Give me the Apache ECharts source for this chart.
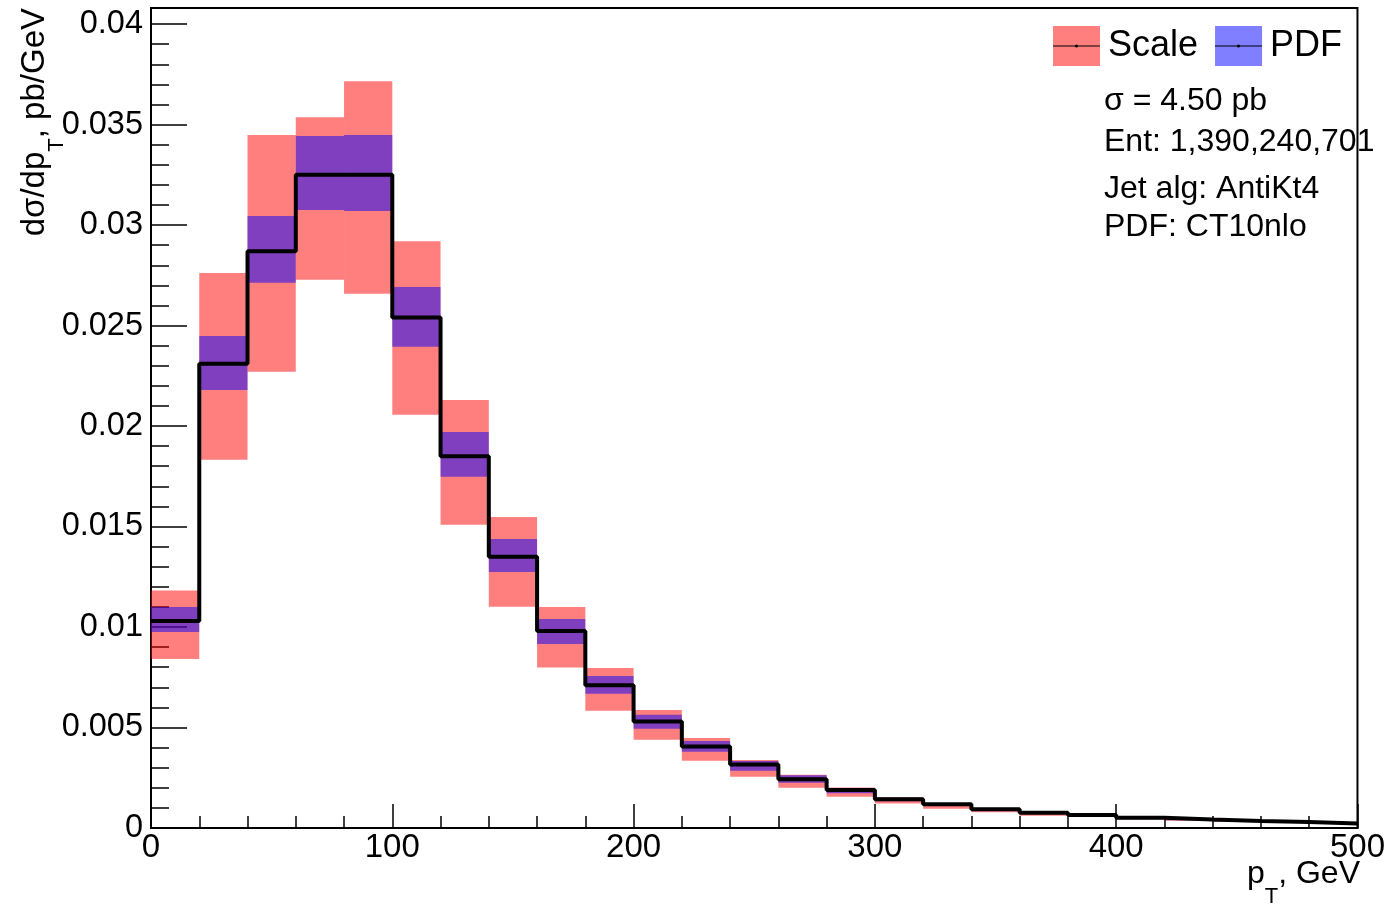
<!DOCTYPE html>
<html>
<head>
<meta charset="utf-8">
<script src="https://cdn.jsdelivr.net/npm/echarts@6/dist/echarts.min.js"></script>
<style>
html,body{margin:0;padding:0;background:#fff;}
#chart{width:1388px;height:908px;}
</style>
</head>
<body>
<div id="chart"></div>
<script>
// ---- data ----
const xEdges = [0,20,40,60,80,100,120,140,160,180,200,220,240,260,280,300,320,340,360,380,400,420,440,460,480,500];
const central = [0.0103,0.0231,0.0287,0.0325,0.0325,0.0254,0.0185,0.0135,0.0098,0.0071,0.0053,0.00405,0.00316,0.00242,0.00189,0.00143,0.00118,0.00093,0.00076,0.00065,0.00051,0.00042,0.00035,0.00030,0.00023];
const scaleLo = [0.00841,0.01832,0.02270,0.02728,0.02658,0.02056,0.01509,0.01101,0.00798,0.00584,0.00439,0.00335,0.00255,0.00200,0.00156,0.00122,0.00096,0.00078,0.00061,0.00055,0.00043,0.00036,0.00030,0.00026,0.00020];
const scaleHi = [0.01182,0.02761,0.03448,0.03537,0.03716,0.02920,0.02129,0.01547,0.01100,0.00796,0.00587,0.00448,0.00338,0.00265,0.00202,0.00153,0.00125,0.00098,0.00080,0.00068,0.00053,0.00044,0.00036,0.00031,0.00024];
const pdfLo = [0.00975,0.02179,0.02713,0.03075,0.03070,0.02395,0.01748,0.01274,0.00915,0.00668,0.00494,0.00380,0.00285,0.00225,0.00173,0.00133,0.00110,0.00087,0.00071,0.00061,0.00048,0.00039,0.00033,0.00028,0.00021];
const pdfHi = [0.01100,0.02448,0.03045,0.03443,0.03448,0.02692,0.01970,0.01438,0.01040,0.00756,0.00564,0.00433,0.00333,0.00262,0.00199,0.00150,0.00124,0.00098,0.00080,0.00068,0.00054,0.00044,0.00037,0.00032,0.00025];
const yTickLabels = ['0','0.005','0.01','0.015','0.02','0.025','0.03','0.035','0.04'];
const xTickLabels = ['0','100','200','300','400','500'];
const legendNames = ['Scale','PDF'];
const infoLines = ['σ = 4.50 pb','Ent: 1,390,240,701','Jet alg: AntiKt4','PDF: CT10nlo'];

// ---- build ----
const FONT = '"Liberation Sans", Arial, Helvetica, sans-serif';
const SCALE_COL = 'rgba(255,0,0,0.5)';
const PDF_COL = 'rgba(0,0,255,0.5)';

function bandData(lo, hi){ return lo.map((v,i)=>[xEdges[i], xEdges[i+1], v, hi[i]]); }
function bandRender(color){
  return function(params, api){
    const p0 = api.coord([api.value(0), api.value(3)]);
    const p1 = api.coord([api.value(1), api.value(2)]);
    return {type:'rect', shape:{x:p0[0], y:p0[1], width:p1[0]-p0[0], height:p1[1]-p0[1]}, style:{fill:color}};
  };
}
const stepData = central.map((v,i)=>[xEdges[i], v]);
stepData.push([xEdges[xEdges.length-1], central[central.length-1]]);

const chart = echarts.init(document.getElementById('chart'), null, {renderer:'canvas'});
const option = {
  animation: false,
  backgroundColor: '#fff',
  grid: {left:151, right:28, top:8, bottom:80, show:true, borderColor:'#000', borderWidth:2, backgroundColor:'transparent'},
  legend: {
    left: 1053, top: 26, padding: 0, itemWidth: 47, itemHeight: 40, itemGap: 17, icon: 'rect', selectedMode: false,
    data: legendNames,
    textStyle: {fontFamily: FONT, fontSize: 36, color: '#000', padding:[0,0,0,3]}
  },
  xAxis: {
    type: 'value', min: 0, max: 500, interval: 100,
    axisLine: {lineStyle:{color:'#000', width:2}},
    axisTick: {inside:true, length:24, lineStyle:{color:'#000', width:1.5}},
    minorTick: {show:true, splitNumber:5, length:12, lineStyle:{color:'#000', width:1.5}},
    axisLabel: {fontFamily: FONT, fontSize: 33, color:'#000', margin:3,
      formatter: v => { const i = xTickLabels.indexOf(String(v)); return i>=0 ? xTickLabels[i] : ''; }},
    splitLine: {show:false}
  },
  yAxis: [{
    type: 'value', min: 0, max: 0.0408, interval: 0.005,
    axisLine: {lineStyle:{color:'#000', width:2}},
    axisTick: {inside:true, length:36, lineStyle:{color:'#000', width:1.5}},
    axisLabel: {fontFamily: FONT, fontSize: 32.5, color:'#000', margin:8, showMaxLabel:false,
      formatter: v => { const k = Math.round(v/0.005); return Math.abs(v/0.005-k)<1e-6 && k < yTickLabels.length ? yTickLabels[k] : ''; }},
    splitLine: {show:false}
  },{
    type: 'value', min: 0, max: 0.0408, interval: 0.001, position:'left', offset:0,
    axisLine: {show:false},
    axisTick: {inside:true, length:18, lineStyle:{color:'#000', width:1.5}},
    axisLabel: {show:false},
    splitLine: {show:false}
  }],
  series: [
    {name:'Scale', type:'custom', renderItem: bandRender(SCALE_COL), data: bandData(scaleLo, scaleHi),
      encode:{x:[0,1], y:[2,3]}, itemStyle:{color:SCALE_COL}, z:2},
    {name:'PDF', type:'custom', renderItem: bandRender(PDF_COL), data: bandData(pdfLo, pdfHi),
      encode:{x:[0,1], y:[2,3]}, itemStyle:{color:PDF_COL}, z:3},
    {name:'central', type:'line', step:'end', data: stepData, symbol:'none',
      lineStyle:{color:'#000', width:4}, z:4}
  ],
  graphic: [
    {type:'line', shape:{x1:1053, y1:46, x2:1100, y2:46}, style:{stroke:'#000', lineWidth:1.2}, z:10},
    {type:'circle', shape:{cx:1076.5, cy:46, r:1.5}, style:{fill:'#000'}, z:10},
    {type:'line', shape:{x1:1215, y1:46, x2:1262, y2:46}, style:{stroke:'#000', lineWidth:1.2}, z:10},
    {type:'circle', shape:{cx:1238.5, cy:46, r:1.5}, style:{fill:'#000'}, z:10},
    {type:'text', x:1104, y:101, style:{text:infoLines[0], font:'32px '+FONT, fill:'#000', verticalAlign:'middle'}, z:10},
    {type:'text', x:1104, y:142, style:{text:infoLines[1], font:'32px '+FONT, fill:'#000', verticalAlign:'middle'}, z:1},
    {type:'text', x:1104, y:189, style:{text:infoLines[2], font:'32px '+FONT, fill:'#000', verticalAlign:'middle'}, z:10},
    {type:'text', x:1104, y:227, style:{text:infoLines[3], font:'32px '+FONT, fill:'#000', verticalAlign:'middle'}, z:10},
    {type:'text', x:35, y:8, rotation: Math.PI/2,
      style:{text:'{a|dσ/dp}{s|T}{a|, pb/GeV}', align:'right', verticalAlign:'middle',
        rich:{a:{fontFamily:FONT, fontSize:33, fill:'#000', lineHeight:36},
              s:{fontFamily:FONT, fontSize:22, fill:'#000', lineHeight:22, padding:[44,0,0,0]}}}, z:10},
    {type:'text', x:1360, y:874,
      style:{text:'{a|p}{s|T}{a|, GeV}', align:'right', verticalAlign:'middle',
        rich:{a:{fontFamily:FONT, fontSize:32, fill:'#000', lineHeight:36},
              s:{fontFamily:FONT, fontSize:22, fill:'#000', lineHeight:22, padding:[46,0,0,0]}}}, z:10}
  ]
};
chart.setOption(option);
</script>
</body>
</html>
